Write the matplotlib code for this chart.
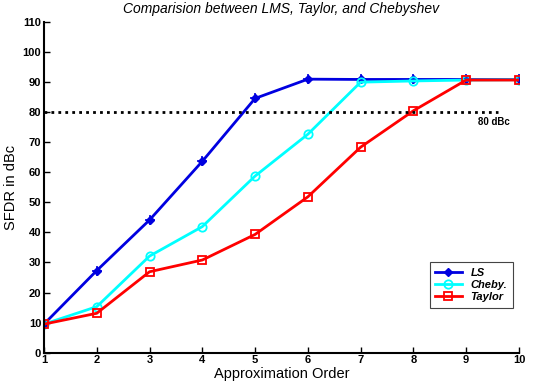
import numpy as np
import matplotlib.pyplot as plt

plt.rcParams['font.family'] = ['Liberation Sans', 'DejaVu Sans']

order = [1, 2, 3, 4, 5, 6, 7, 8, 9, 10]
ls_sfdr = [9.5, 27.3, 44.1, 63.6, 84.5, 90.9, 90.8, 90.8, 90.8, 90.8]
cheby_sfdr = [9.5, 15.3, 32.1, 41.9, 58.7, 72.6, 89.9, 90.3, 90.6, 90.7]
taylor_sfdr = [9.5, 13.1, 26.9, 30.8, 39.3, 51.8, 68.3, 80.4, 90.6, 90.6]
threshold = 80

fig = plt.figure(figsize=(5.35, 3.87), dpi=100)
ax = fig.add_axes([0.0822, 0.0886, 0.8878, 0.8554])

ax.plot(order, ls_sfdr, color="#0000e0", lw=2, marker="D", ms=4.5,
        mfc="#0000e0", mec="#0000e0", label="LS")
ax.plot(order, ls_sfdr, ls="none", marker="+", ms=7, mew=1.2, color="#0000e0")
ax.plot(order, cheby_sfdr, color="#00ffff", lw=2, marker="o", ms=6,
        mfc="none", mew=1.3, label="Cheby.")
ax.plot(order, taylor_sfdr, color="#ff0000", lw=2, marker="s", ms=6,
        mfc="none", mew=1.3, label="Taylor")

ax.plot([1, 9.6], [threshold, threshold], color="black", lw=2, ls=(0, (1, 1.5)))
ax.text(9.22, 76.8, "80 dBc", fontsize=7, fontweight="bold", va="center")

ax.set_xlim(1, 10)
ax.set_ylim(0, 110)
ax.set_xticks(order)
ax.set_yticks(np.arange(0, 111, 10))
ax.tick_params(direction="in", length=4, labelsize=8, width=1, pad=2)
for lab in ax.get_xticklabels() + ax.get_yticklabels():
    lab.set_fontweight("bold")
ax.spines["top"].set_visible(False)
ax.spines["right"].set_visible(False)
ax.spines["left"].set_linewidth(1.5)
ax.spines["bottom"].set_linewidth(1.5)

ax.set_xlabel("Approximation Order", fontsize=10.5, labelpad=1)
ax.set_ylabel("SFDR in dBc", fontsize=10.5, labelpad=3)
ax.set_title("Comparision between LMS, Taylor, and Chebyshev", fontsize=10,
             style="italic", pad=6)

handles, labels = ax.get_legend_handles_labels()
leg = ax.legend(handles, labels, loc="upper left", bbox_to_anchor=(0.80, 0.29),
                fancybox=False, edgecolor="#444444", framealpha=1,
                prop={"size": 8, "weight": "bold", "style": "italic"},
                handlelength=2.4, borderpad=0.5, labelspacing=0.2)
leg.get_frame().set_linewidth(0.8)

fig.savefig("out.png", dpi=100)
